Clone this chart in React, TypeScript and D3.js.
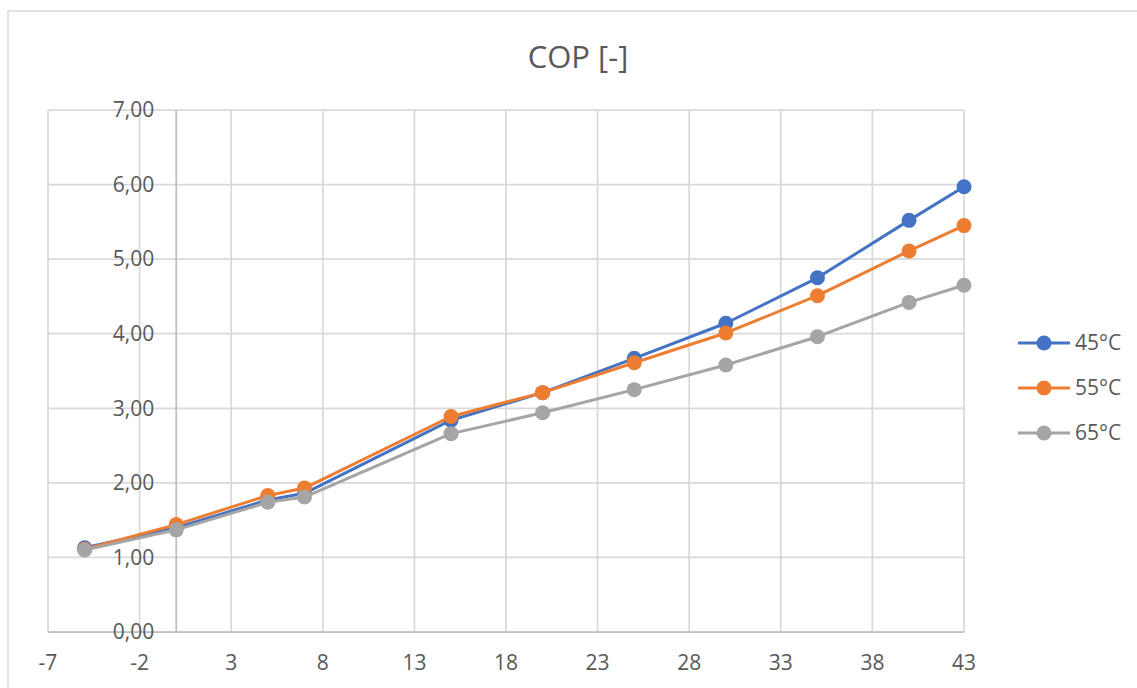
import React from "react";
import * as d3 from "d3";

const xValues = [-5, 0, 5, 7, 15, 20, 25, 30, 35, 40, 43];
const cop45 = [1.13, 1.40, 1.77, 1.86, 2.84, 3.21, 3.67, 4.14, 4.75, 5.52, 5.97];
const cop55 = [1.11, 1.44, 1.83, 1.93, 2.89, 3.21, 3.61, 4.01, 4.51, 5.11, 5.45];
const cop65 = [1.10, 1.37, 1.74, 1.81, 2.66, 2.94, 3.25, 3.58, 3.96, 4.42, 4.65];
const seriesNames = ["45°C", "55°C", "65°C"];
const seriesColors = ["#4472C4", "#ED7D31", "#A5A5A5"];
const xTicks = [-7, -2, 3, 8, 13, 18, 23, 28, 33, 38, 43];
const yTicks = [0, 1, 2, 3, 4, 5, 6, 7];
const title = "COP [-]";

const W = 1137;
const H = 688;
const FONT = "'Open Sans', 'Noto Sans', sans-serif";

export default function App() {
  const x = d3.scaleLinear().domain([-7, 43]).range([48, 964]);
  const y = d3.scaleLinear().domain([0, 7]).range([632, 110]);
  const series = [cop45, cop55, cop65];
  const line = d3
    .line<number>()
    .x((_, i) => x(xValues[i]))
    .y((d) => y(d));
  const fmt = (v: number) => v.toFixed(2).replace(".", ",");

  return (
    <svg
      width={W}
      height={H}
      style={{ position: "absolute", left: 0, top: 0, background: "#fff" }}
      fontFamily={FONT}
    >
      <rect x={8} y={11} width={W + 10} height={H + 10} fill="#fff" stroke="#d9d9d9" strokeWidth={1.5} />
      <text x={578} y={68} textAnchor="middle" fontSize={31} fill="#595959">
        {title}
      </text>
      {/* gridlines */}
      {yTicks.map((t) => (
        <line key={"gy" + t} x1={x(-7)} x2={x(43)} y1={y(t)} y2={y(t)} stroke="#d9d9d9" strokeWidth={1.75} />
      ))}
      {xTicks.map((t) => (
        <line key={"gx" + t} x1={x(t)} x2={x(t)} y1={y(0)} y2={y(7)} stroke="#d9d9d9" strokeWidth={1.75} />
      ))}
      {/* axes */}
      <line x1={x(0)} x2={x(0)} y1={y(0)} y2={y(7)} stroke="#bfbfbf" strokeWidth={1.75} />
      <line x1={x(-7)} x2={x(43)} y1={y(0)} y2={y(0)} stroke="#bfbfbf" strokeWidth={1.75} />
      {/* y tick labels */}
      {yTicks.map((t) => (
        <text key={"ly" + t} x={x(0) - 22} y={y(t)} dy="0.35em" textAnchor="end" fontSize={21} fill="#595959">
          {fmt(t)}
        </text>
      ))}
      {/* x tick labels */}
      {xTicks.map((t) => (
        <text key={"lx" + t} x={x(t)} y={670} textAnchor="middle" fontSize={21} fill="#595959">
          {t}
        </text>
      ))}
      {/* series */}
      {series.map((s, si) => (
        <g key={"s" + si}>
          <path d={line(s) || ""} fill="none" stroke={seriesColors[si]} strokeWidth={3} strokeLinejoin="round" />
          {s.map((v, i) => (
            <circle key={i} cx={x(xValues[i])} cy={y(v)} r={7.5} fill={seriesColors[si]} />
          ))}
        </g>
      ))}
      {/* legend */}
      {seriesNames.map((n, i) => {
        const ly = 343 + i * 45;
        return (
          <g key={"lg" + i}>
            <line x1={1018} x2={1070} y1={ly} y2={ly} stroke={seriesColors[i]} strokeWidth={3} />
            <circle cx={1044} cy={ly} r={7.5} fill={seriesColors[i]} />
            <text x={1075} y={ly} dy="0.35em" fontSize={21} fill="#595959">
              {n}
            </text>
          </g>
        );
      })}
    </svg>
  );
}
